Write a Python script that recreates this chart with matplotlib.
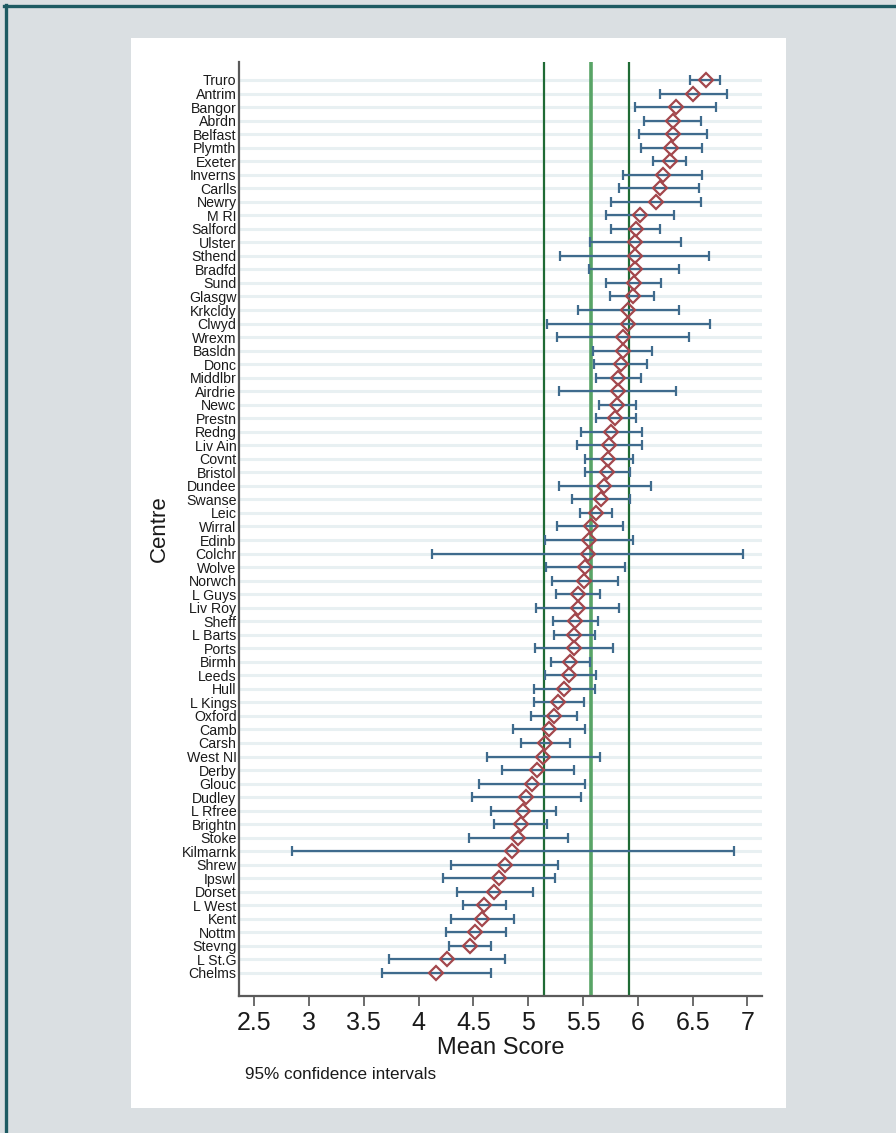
import numpy as np
import matplotlib
matplotlib.use("Agg")
import matplotlib.pyplot as plt
from matplotlib.lines import Line2D
from matplotlib.patches import Rectangle

plt.rcParams['font.family'] = ['Liberation Sans', 'DejaVu Sans']

# centres, top to bottom
centres = ["Truro", "Antrim", "Bangor", "Abrdn", "Belfast", "Plymth", "Exeter",
           "Inverns", "Carlls", "Newry", "M RI", "Salford", "Ulster", "Sthend",
           "Bradfd", "Sund", "Glasgw", "Krkcldy", "Clwyd", "Wrexm", "Basldn",
           "Donc", "Middlbr", "Airdrie", "Newc", "Prestn", "Redng", "Liv Ain",
           "Covnt", "Bristol", "Dundee", "Swanse", "Leic", "Wirral", "Edinb",
           "Colchr", "Wolve", "Norwch", "L Guys", "Liv Roy", "Sheff", "L Barts",
           "Ports", "Birmh", "Leeds", "Hull", "L Kings", "Oxford", "Camb",
           "Carsh", "West NI", "Derby", "Glouc", "Dudley", "L Rfree", "Brightn",
           "Stoke", "Kilmarnk", "Shrew", "Ipswl", "Dorset", "L West", "Kent",
           "Nottm", "Stevng", "L St.G", "Chelms"]

mean_score = [6.62, 6.505, 6.344, 6.32, 6.32, 6.305, 6.29,
              6.228, 6.198, 6.167, 6.021, 5.983, 5.975, 5.975,
              5.975, 5.967, 5.952, 5.913, 5.913, 5.868, 5.868,
              5.844, 5.821, 5.821, 5.814, 5.79, 5.756, 5.737,
              5.729, 5.718, 5.691, 5.66, 5.614, 5.576, 5.553,
              5.545, 5.514, 5.506, 5.452, 5.452, 5.43, 5.42,
              5.422, 5.383, 5.376, 5.322, 5.276, 5.237, 5.191,
              5.153, 5.138, 5.084, 5.038, 4.976, 4.953, 4.931,
              4.907, 4.854, 4.785, 4.731, 4.692, 4.6, 4.578,
              4.516, 4.47, 4.262, 4.162]

ci_low = [6.478, 6.198, 5.971, 6.052, 6.009, 6.025, 6.136,
          5.863, 5.829, 5.756, 5.71, 5.756, 5.564, 5.287,
          5.557, 5.71, 5.748, 5.452, 5.169, 5.265, 5.595,
          5.602, 5.618, 5.28, 5.649, 5.618, 5.483, 5.445,
          5.514, 5.514, 5.28, 5.399, 5.468, 5.265, 5.153,
          4.124, 5.161, 5.218, 5.25, 5.068, 5.222, 5.237,
          5.065, 5.207, 5.153, 5.053, 5.053, 5.03, 4.861,
          4.938, 4.623, 4.762, 4.554, 4.485, 4.662, 4.692,
          4.462, 2.841, 4.3, 4.224, 4.347, 4.408, 4.293,
          4.247, 4.277, 3.733, 3.664]

ci_high = [6.751, 6.812, 6.716, 6.581, 6.631, 6.589, 6.443,
           6.589, 6.558, 6.574, 6.328, 6.205, 6.39, 6.651,
           6.374, 6.213, 6.148, 6.374, 6.659, 6.466, 6.129,
           6.082, 6.025, 6.351, 5.986, 5.979, 6.036, 6.036,
           5.96, 5.933, 6.117, 5.925, 5.762, 5.868, 5.952,
           6.958, 5.883, 5.821, 5.652, 5.832, 5.641, 5.608,
           5.771, 5.564, 5.621, 5.606, 5.506, 5.448, 5.522,
           5.383, 5.652, 5.414, 5.522, 5.483, 5.25, 5.169,
           5.36, 6.873, 5.276, 5.245, 5.046, 4.8, 4.869,
           4.8, 4.662, 4.792, 4.662]

# reference lines (lower, overall mean, upper)
ref_lines = [5.141, 5.572, 5.917]
xticks = [2.5, 3, 3.5, 4, 4.5, 5, 5.5, 6, 6.5, 7]
xticklabels = ["2.5", "3", "3.5", "4", "4.5", "5", "5.5", "6", "6.5", "7"]

W, H = 896, 1133
fig = plt.figure(figsize=(W / 100, H / 100), dpi=100, facecolor='#dadfe2')

# white graph region + dark frame edges
fig.add_artist(Rectangle((131 / W, 1 - 1108 / H), 655 / W, 1070 / H,
                         transform=fig.transFigure, facecolor='white', edgecolor='none', zorder=0))
fig.add_artist(Line2D([4 / W, 1], [1 - 6 / H, 1 - 6 / H], transform=fig.transFigure,
                      color='#1d5a62', lw=2.4))
fig.add_artist(Line2D([5.5 / W, 5.5 / W], [0, 1 - 5 / H], transform=fig.transFigure,
                      color='#1d5a62', lw=2.4))

ax = fig.add_axes([239.4 / W, 1 - 996 / H, (762 - 239.4) / W, (996 - 62) / H])
ax.set_facecolor('none')

n = len(centres)
ypos = np.arange(n)
mean_score = np.array(mean_score)
err = [mean_score - np.array(ci_low), np.array(ci_high) - mean_score]

# row grid
for y in ypos:
    ax.axhline(y, color='#e8f0f2', lw=2.2, zorder=1)

# reference lines
ax.axvline(ref_lines[0], color='#1f6b35', lw=1.6, zorder=2)
ax.axvline(ref_lines[1], color='#58a466', lw=2.6, zorder=2)
ax.axvline(ref_lines[2], color='#1f6b35', lw=1.6, zorder=2)

ax.errorbar(mean_score, ypos, xerr=err, fmt='none', ecolor='#3f6b8d',
            elinewidth=1.6, capsize=3.6, capthick=1.6, zorder=3)
ax.plot(mean_score, ypos, 'D', ms=6.8, mfc='none', mec='#a3474c', mew=1.6, zorder=4)

ax.set_xlim(2.365, 7.133)
ax.set_ylim(n - 1 + 1.70, -1.33)

ax.set_yticks(ypos)
ax.set_yticklabels(centres, fontsize=10.2, color='#1a1a1a')
ax.tick_params(axis='y', length=0, pad=2)
ax.set_xticks(xticks)
ax.set_xticklabels(xticklabels, fontsize=18, color='#1a1a1a')
ax.tick_params(axis='x', length=7, width=1.3, color='#606060', pad=4)

for side in ['top', 'right']:
    ax.spines[side].set_visible(False)
for side in ['left', 'bottom']:
    ax.spines[side].set_color('#5a5a5a')
    ax.spines[side].set_linewidth(1.6)

ax.set_xlabel("Mean Score", fontsize=17, color='#1a1a1a', labelpad=1)
ax.set_ylabel("Centre", fontsize=16, color='#1a1a1a')
ax.yaxis.set_label_coords(-0.133, 0.5)

fig.text(245 / W, 1 - 1079 / H, "95% confidence intervals", fontsize=12.3,
         color='#1a1a1a', va='baseline')

fig.savefig("out.png", dpi=100, facecolor=fig.get_facecolor())
